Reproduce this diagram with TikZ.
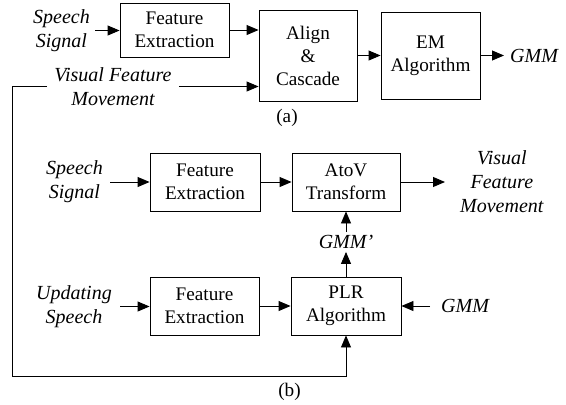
\documentclass[tikz,border=0pt]{standalone}
\usepackage{fontspec}
\setmainfont{Liberation Serif}
\usetikzlibrary{arrows.meta}
\begin{document}
\begin{tikzpicture}[x=1pt,y=-1pt,
  every node/.style={font=\fontsize{19.2}{23}\selectfont},
  blk/.style={draw, line width=0.9pt, align=center, inner sep=0pt},
  lbl/.style={align=center, font=\fontsize{20}{24}\selectfont\itshape, inner ysep=2pt},
  sublabel/.style={inner sep=0pt},
  conn/.style={line width=0.9pt, -{Triangle[length=12pt,width=10pt]}},
  wire/.style={line width=0.9pt}]
\useasboundingbox (0,0) rectangle (566,405);

% ---------- (a) training ----------
\node[blk, minimum width=109pt, minimum height=54pt] (fea) at (174.5,30) {Feature\\Extraction};
\node[blk, minimum width=98pt, minimum height=91pt] (align) at (308,55.5) {Align\\\&\\Cascade};
\node[blk, minimum width=99pt, minimum height=87pt] (em) at (430.5,55.5) {EM\\Algorithm};

\node[lbl, anchor=east, inner xsep=5pt] (spa) at (95,30.5) {Speech\\Signal};
\node[lbl, inner xsep=7pt] (vfa) at (113,86.5) {Visual Feature\\Movement};
\node[lbl, anchor=west, inner xsep=6pt] (gmma) at (504,55.5) {GMM};
\node[sublabel] (la) at (287,118) {(a)};

\draw[conn] (spa.east) -- (spa.east -| fea.west);
\draw[conn] (fea.east) -- (fea.east -| align.west);
\draw[conn] (vfa.east) -- (vfa.east -| align.west);
\draw[conn] (align.east) -- (em.west);
\draw[conn] (em.east) -- (gmma.west);

% ---------- (b) conversion and update ----------
\node[blk, minimum width=110pt, minimum height=58pt] (feb) at (205,182) {Feature\\Extraction};
\node[blk, minimum width=108pt, minimum height=58pt] (atov) at (346,182) {AtoV\\Transform};
\node[blk, minimum width=109pt, minimum height=58pt] (fec) at (204.5,306) {Feature\\Extraction};
\node[blk, minimum width=110pt, minimum height=58pt] (plr) at (346,306) {PLR\\Algorithm};

\node[lbl, anchor=east, inner xsep=7pt] (spb) at (110,182) {Speech\\Signal};
\node[lbl, anchor=west, inner xsep=15pt] (vfb) at (445,182) {Visual\\Feature\\Movement};
\node[lbl, inner ysep=3pt] (gmmp) at (346,242) {GMM’};
\node[lbl, anchor=east, inner xsep=8pt] (upd) at (120,306.5) {Updating\\Speech};
\node[lbl, anchor=west, inner xsep=11pt] (gmmb) at (430,306) {GMM};
\node[sublabel] (lb) at (289.5,392) {(b)};

\draw[conn] (spb.east) -- (feb.west);
\draw[conn] (feb.east) -- (atov.west);
\draw[conn] (atov.east) -- (vfb.west);
\draw[conn] (gmmp.north) -- (atov.south);
\draw[conn] (plr.north) -- (gmmp.south);
\draw[conn] (upd.east) -- (upd.east -| fec.west);
\draw[conn] (fec.east) -- (plr.west);
\draw[conn] (gmmb.west) -- (plr.east);

% feedback of the visual features into the PLR update
\coordinate (fbtop) at (12,86.5);
\coordinate (fbbot) at (12,376);
\draw[conn] (vfa.west) -- (fbtop) -- (fbbot) -- (fbbot -| plr.south) -- (plr.south);
\end{tikzpicture}
\end{document}
